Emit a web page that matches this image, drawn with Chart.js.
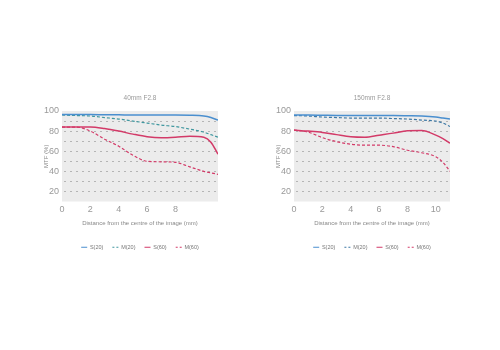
<!DOCTYPE html>
<html lang="en">
<head>
  <meta charset="UTF-8">
  <title>MTF charts</title>
  <script src="https://cdn.jsdelivr.net/npm/chart.js"></script>
  <style>
    body { margin: 0; background: #fff; width: 500px; height: 350px; position: relative; overflow: hidden; }
    .box { position: absolute; top: 85px; width: 190px; height: 175px; }
    #leftBox { left: 40px; }
    #rightBox { left: 272px; }
  </style>
</head>
<body>
  <div class="box" id="leftBox"><canvas id="chartLeft"></canvas></div>
  <div class="box" id="rightBox"><canvas id="chartRight"></canvas></div>

  <script>
    // distance from centre (mm)
    const distances = [0, 1, 2, 3, 4, 5, 6, 7, 8, 9, 10, 10.5, 11];
    const seriesNames = ['S(20)', 'M(20)', 'S(60)', 'M(60)'];
    const yTicks = [20, 40, 60, 80, 100];

    // 40mm F2.8
    const s20Left = [96.5, 96.5, 96.5, 96.3, 96.2, 96, 96, 96, 96, 95.8, 95, 93.5, 91];
    const m20Left = [96, 95.5, 95, 93.5, 92, 90, 88, 86, 84.5, 82, 79, 76.5, 74];
    const s60Left = [84, 84, 84, 82.5, 80, 77, 74.5, 73.5, 74, 75, 74, 69, 57];
    const m60Left = [84, 84, 80, 72, 65, 56, 50, 49.5, 49, 44.5, 40, 38.5, 37];

    // 150mm F2.8
    const s20Right = [96, 96, 95.8, 95.6, 95.5, 95.5, 95.5, 95.5, 95.3, 95, 94, 93, 92];
    const m20Right = [95.5, 95, 94, 93.5, 93, 93, 93, 92.5, 92, 91, 90, 88, 84.5];
    const s60Right = [81, 80, 78.7, 76.5, 74.5, 74, 76, 78, 80.3, 80.5, 76, 72.5, 68];
    const m60Right = [81, 79, 73.5, 69.5, 67, 66, 66, 64.5, 61, 58.5, 54.5, 49, 40];

    const FONT = "'Liberation Sans', Arial, sans-serif";

    // grey plot background + title centred on the plot area
    const plotBg = {
      id: 'plotBg',
      beforeDraw(chart) {
        const a = chart.chartArea;
        const c = chart.ctx;
        c.save();
        c.fillStyle = '#ececec';
        c.fillRect(a.left, a.top, a.right - a.left, a.bottom - a.top);
        c.fillStyle = '#999';
        c.font = '6.5px ' + FONT;
        c.textAlign = 'center';
        c.textBaseline = 'middle';
        c.fillText(chart.options.plugins.title.text, (a.left + a.right) / 2, 13);
        c.restore();
      }
    };

    // dotted horizontal grid lines over the grey background
    const dotGrid = {
      id: 'dotGrid',
      beforeDatasetsDraw(chart) {
        const a = chart.chartArea;
        const ys = chart.scales.y;
        const c = chart.ctx;
        c.save();
        c.strokeStyle = '#b5b5b5';
        c.lineWidth = 1;
        c.setLineDash([2, 4]);
        ys.ticks.forEach(t => {
          if (t.value >= 100 || t.value <= 10) return;
          const y = Math.round(ys.getPixelForValue(t.value)) + 0.5;
          c.beginPath();
          c.moveTo(a.left + 2, y);
          c.lineTo(a.right, y);
          c.stroke();
        });
        c.restore();
      }
    };

    function pts(vals) {
      return vals.map((v, i) => ({ x: distances[i], y: v }));
    }

    function makeChart(id, title, vals, lastTick, dashColor) {
      const colors = ['#4a8fcf', dashColor, '#d33a68', '#d33a68'];
      const dashed = [false, true, false, true];
      return new Chart(document.getElementById(id), {
        type: 'line',
        data: {
          datasets: vals.map((v, i) => ({
            label: seriesNames[i],
            data: pts(v),
            borderColor: colors[i],
            backgroundColor: colors[i],
            borderWidth: dashed[i] ? 1.2 : 1.5,
            borderDash: dashed[i] ? [3, 2] : [],
            pointRadius: 0,
            pointStyle: 'line',
            cubicInterpolationMode: 'monotone',
            fill: false
          }))
        },
        options: {
          responsive: true,
          maintainAspectRatio: false,
          animation: false,
          layout: { padding: { left: 0, right: 12, top: 26, bottom: 0 } },
          scales: {
            x: {
              type: 'linear',
              min: 0,
              max: 11,
              border: { display: false },
              grid: { display: false, drawTicks: false },
              ticks: {
                stepSize: 2,
                autoSkip: false,
                includeBounds: false,
                maxRotation: 0,
                color: '#999',
                font: { family: FONT, size: 9 },
                padding: 3,
                callback: v => (v <= lastTick ? v : '')
              },
              title: {
                display: true,
                text: 'Distance from the centre of the image (mm)',
                color: '#888',
                font: { family: FONT, size: 6 },
                padding: { top: 1, bottom: 9 }
              }
            },
            y: {
              min: 10,
              max: 100,
              border: { display: false },
              afterFit: s => { s.width = 22; },
              grid: { display: false, drawTicks: false },
              ticks: {
                stepSize: 10,
                autoSkip: false,
                color: '#999',
                font: { family: FONT, size: 9 },
                padding: 3,
                callback: v => (yTicks.includes(v) ? v : '')
              },
              title: {
                display: true,
                text: 'MTF (%)',
                color: '#888',
                font: { family: FONT, size: 6 },
                padding: { top: 3, bottom: 0 }
              }
            }
          },
          plugins: {
            title: { display: false, text: title },
            legend: {
              position: 'bottom',
              fullSize: false,
              labels: {
                usePointStyle: true,
                pointStyleWidth: 6,
                boxHeight: 5,
                padding: 9,
                color: '#777',
                font: { family: FONT, size: 5.5 },
                generateLabels: chart => {
                  const items = Chart.defaults.plugins.legend.labels.generateLabels(chart);
                  items.forEach(it => {
                    const ds = chart.data.datasets[it.datasetIndex];
                    it.lineDash = ds.borderDash.length ? [2, 2] : [];
                    it.lineWidth = 1;
                  });
                  return items;
                }
              }
            },
            tooltip: { enabled: false }
          }
        },
        plugins: [plotBg, dotGrid]
      });
    }

    makeChart('chartLeft', '40mm F2.8', [s20Left, m20Left, s60Left, m60Left], 8, '#3f979f');
    makeChart('chartRight', '150mm F2.8', [s20Right, m20Right, s60Right, m60Right], 10, '#3d78a5');
  </script>
</body>
</html>
